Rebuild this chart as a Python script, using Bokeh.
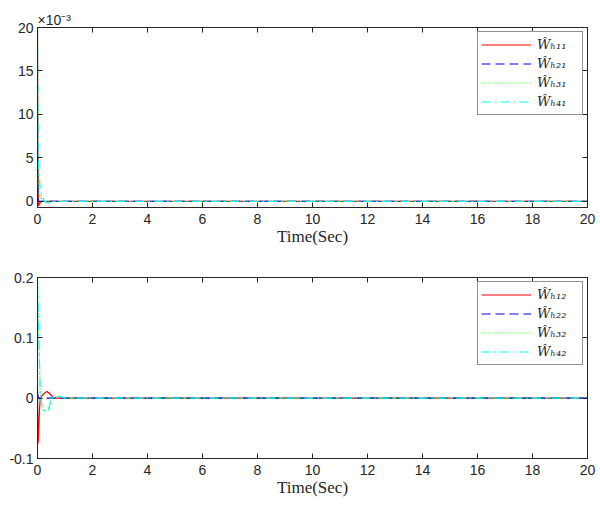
from bokeh.plotting import figure
from bokeh.layouts import column
from bokeh.models import (ColumnDataSource, Legend, LegendItem, LinearAxis, FixedTicker,
                          CustomJSTickFormatter, Range1d, CustomLabelingPolicy)
from bokeh.embed import file_html
from bokeh.resources import INLINE

# ---- data ----
x_ticks = [0, 2, 4, 6, 8, 10, 12, 14, 16, 18, 20]
top_y_ticks = [0.0, 0.005, 0.010, 0.015, 0.020]
bot_y_ticks = [-0.1, 0.0, 0.1, 0.2]

# top panel (values in absolute units, axis shown x10^-3)
w11_t = [0, 0.01, 0.03, 0.06, 0.10, 0.15, 0.30, 20]
w11_v = [0.020, 0.006, -0.0005, -0.0004, -0.0001, 0.0, 0.0, 0.0]
w21_t = [0, 0.01, 0.03, 20]
w21_v = [0.010, 0.002, 0.0, 0.0]
w31_t = [0, 0.02, 0.05, 0.15, 0.30, 20]
w31_v = [0.020, 0.005, 0.001, 0.0002, 0.0, 0.0]
w41_t = [0, 0.02, 0.05, 0.10, 0.15, 0.25, 0.40, 0.60, 20]
w41_v = [0.020, 0.006, 0.0035, 0.0015, 0.0008, 0.0, -0.0002, 0.0, 0.0]

# bottom panel
w12_t = [0, 0.01, 0.02, 0.04, 0.07, 0.10, 0.20, 0.30, 0.35, 0.45, 0.55, 0.70, 20]
w12_v = [0.021, -0.03, -0.075, -0.06, -0.02, 0.0, 0.006, 0.010, 0.011, 0.007, 0.002, 0.0, 0.0]
w22_t = [0, 0.02, 0.05, 20]
w22_v = [0.010, 0.002, 0.0, 0.0]
w32_t = [0, 0.02, 0.05, 0.08, 0.10, 0.15, 0.20, 0.30, 0.40, 0.45, 0.50, 0.60, 0.80, 1.00, 20]
w32_v = [0.200, 0.160, 0.100, 0.050, 0.010, -0.010, -0.020, -0.021, -0.019, -0.010, 0.0, 0.001, 0.002, 0.0, 0.0]
w42_t = [0, 0.02, 0.05, 0.08, 0.10, 0.15, 0.20, 0.30, 0.40, 0.45, 0.50, 0.60, 0.80, 1.00, 20]
w42_v = [0.190, 0.150, 0.100, 0.040, 0.005, -0.010, -0.020, -0.022, -0.020, -0.010, 0.0, 0.002, 0.003, 0.0, 0.0]

top_labels = ["Ŵₕ₁₁", "Ŵₕ₂₁", "Ŵₕ₃₁", "Ŵₕ₄₁"]
bot_labels = ["Ŵₕ₁₂", "Ŵₕ₂₂", "Ŵₕ₃₂", "Ŵₕ₄₂"]

colors = ["#FF0000", "#0000FF", "#00FF00", "#00FFFF"]
dashes = ["solid", "9 5", "1 2", "9 4 2 4"]

AX = "#262626"
TICK_FONT = "Liberation Sans"

NO_LABELS = "for (const i of indices) { indices.unset(i) }\nreturn indices"


def style_axis(ax, show_labels=True):
    ax.major_tick_in = 5
    ax.major_tick_out = 0
    ax.minor_tick_in = 0
    ax.minor_tick_out = 0
    ax.axis_line_color = AX
    ax.major_tick_line_color = AX
    if show_labels:
        ax.major_label_text_font = TICK_FONT
        ax.major_label_text_font_size = "14px"
        ax.major_label_text_color = AX
    else:
        ax.major_label_policy = CustomLabelingPolicy(code=NO_LABELS)
        ax.major_label_text_font_size = "0px"
        ax.major_label_standoff = 0


def make_panel(series, labels, yr, yticks, yfmt, height, border_top, border_bottom, sci=False):
    p = figure(width=600, height=height, output_backend="svg", toolbar_location=None,
               x_range=Range1d(0, 20), y_range=Range1d(*yr),
               min_border_left=37, min_border_right=13, min_border_top=border_top,
               min_border_bottom=border_bottom,
               title=("×10⁻³" if sci else None))
    if sci:
        p.title.align = "left"
        p.title.text_font = TICK_FONT
        p.title.text_font_style = "normal"
        p.title.text_font_size = "14px"
        p.title.text_color = AX
        p.title.standoff = 0
        p.title.offset = 0
    p.grid.visible = False
    p.outline_line_color = AX
    p.outline_line_width = 1
    p.background_fill_color = "white"
    p.border_fill_color = "white"

    p.xaxis.ticker = FixedTicker(ticks=x_ticks)
    p.yaxis.ticker = FixedTicker(ticks=yticks)
    p.yaxis.formatter = CustomJSTickFormatter(code=yfmt)
    for ax in p.xaxis:
        style_axis(ax)
        ax.major_label_standoff = 6
        ax.axis_label = "Time(Sec)"
        ax.axis_label_text_font = "Liberation Serif"
        ax.axis_label_text_font_style = "normal"
        ax.axis_label_text_font_size = "17px"
        ax.axis_label_text_color = AX
        ax.axis_label_standoff = 0
    for ax in p.yaxis:
        style_axis(ax)
        ax.major_label_standoff = 4

    top_ax = LinearAxis(ticker=FixedTicker(ticks=x_ticks))
    style_axis(top_ax, False)
    right_ax = LinearAxis(ticker=FixedTicker(ticks=yticks))
    style_axis(right_ax, False)
    p.add_layout(top_ax, "above")
    p.add_layout(right_ax, "right")

    items = []
    for (t, v), lab, c, d in zip(series, labels, colors, dashes):
        src = ColumnDataSource(dict(t=t, v=v))
        r = p.line("t", "v", source=src, line_color=c, line_dash=d, line_width=1.2)
        items.append(LegendItem(label=lab, renderers=[r]))

    leg = Legend(items=items, location="top_right")
    leg.margin = 4
    leg.padding = 3
    leg.spacing = 0
    leg.glyph_width = 50
    leg.glyph_height = 19
    leg.label_height = 19
    leg.label_width = 42
    leg.label_standoff = 6
    leg.label_text_font = "DejaVu Serif"
    leg.label_text_font_style = "italic"
    leg.label_text_font_size = "13px"
    leg.label_text_color = AX
    leg.border_line_color = AX
    leg.border_line_width = 1
    leg.background_fill_alpha = 1.0
    p.add_layout(leg, "center")
    return p


p1 = make_panel([(w11_t, w11_v), (w21_t, w21_v), (w31_t, w31_v), (w41_t, w41_v)],
                top_labels, (-0.0007, 0.020), top_y_ticks,
                "return (tick*1000).toFixed(0);", 258, 27, 51, sci=True)
p2 = make_panel([(w12_t, w12_v), (w22_t, w22_v), (w32_t, w32_v), (w42_t, w42_v)],
                bot_labels, (-0.1, 0.2), bot_y_ticks,
                "return Math.abs(tick) < 1e-9 ? '0' : tick.toFixed(1);", 249, 19, 49)

layout = column(p1, p2, spacing=0)
open("out.html", "w").write(file_html(layout, INLINE))
